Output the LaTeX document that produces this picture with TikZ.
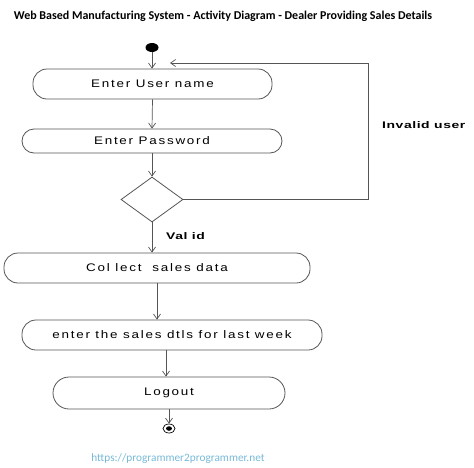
\documentclass[tikz,border=0pt]{standalone}
\usepackage{fontspec}
\setmainfont{Liberation Sans}
\newfontfamily\calib{Carlito}
\newfontfamily\actfont[FakeStretch=1.22, LetterSpace=16]{Liberation Sans}
\newfontfamily\lblfont[FakeStretch=1.45, LetterSpace=6]{Liberation Sans Bold}
\usetikzlibrary{shapes.geometric,arrows.meta}
\definecolor{urlblue}{RGB}{120,185,215}
\definecolor{linegray}{RGB}{85,85,85}
\tikzset{
  act/.style={draw=linegray, line width=0.8pt, rounded corners=14pt, inner sep=0pt,
    font=\actfont\fontsize{11}{13}\selectfont},
  arr/.style={draw=linegray, line width=0.7pt, -{Straight Barb[length=5pt,width=7pt]}},
  ln/.style={draw=linegray, line width=0.7pt},
  lbl/.style={font=\lblfont\fontsize{9.6}{12}\selectfont, inner sep=0pt}
}
\begin{document}
\begin{tikzpicture}[x=1pt,y=-1pt]
\useasboundingbox (0,0) rectangle (474,467);
\node[font=\calib\bfseries\fontsize{12}{14}\selectfont, inner sep=0pt] (title) at (223,16)
  {Web Based Manufacturing System - Activity Diagram - Dealer Providing Sales Details};
\node[ellipse, fill=black, inner sep=0pt, minimum width=13pt, minimum height=9pt] (start) at (152,47.5) {};
\node[act, minimum width=239pt, minimum height=30pt] (user) at (152.5,84) {Enter User name};
\node[act, minimum width=260pt, minimum height=24pt, rounded corners=12pt] (pwd) at (152,141) {Enter Password};
\node[diamond, draw=linegray, line width=0.8pt, inner sep=0pt, minimum width=62pt, minimum height=45pt] (dec) at (152,199.5) {};
\node[act, minimum width=306pt, minimum height=30pt] (collect) at (157,268) {Col lect\ \ sales data};
\node[act, minimum width=300pt, minimum height=30pt] (enter) at (172,335) {enter the sales dtls for last week};
\node[act, minimum width=232pt, minimum height=32pt, rounded corners=16pt] (logout) at (169,393) {Logout};
\node[ellipse, draw=black, line width=0.7pt, inner sep=0pt, minimum width=12pt, minimum height=9pt] (end) at (169,428.5) {};
\node[ellipse, fill=black, inner sep=0pt, minimum width=6pt, minimum height=4.5pt] (endin) at (169,428.5) {};
\coordinate (back) at (170,63);
\coordinate (corner) at (368,199.5);
\draw[arr] (start) -- (start |- user.north);
\draw[arr] (user.south) -- (pwd.north);
\draw[arr] (pwd.south) -- (dec.north);
\draw[arr] (dec.south) -- (dec.south |- collect.north);
\draw[arr] (collect.south) -- (collect.south |- enter.north);
\draw[arr] ([xshift=-6pt]enter.south) -- ([xshift=-6pt]enter.south |- logout.north);
\draw[arr] (logout.south) -- (end.north);
\draw[arr] (dec.east) -- (corner) -- (corner |- back) -- (back);
\node[lbl, anchor=west] (invalid) at (382,125) {Invalid user};
\node[lbl, anchor=west] (valid) at (166,236) {Val id};
\node[font=\calib\fontsize{11.3}{13}\selectfont, text=urlblue, inner sep=0pt] (url) at (178,459) {https://programmer2programmer.net};
\end{tikzpicture}
\end{document}
